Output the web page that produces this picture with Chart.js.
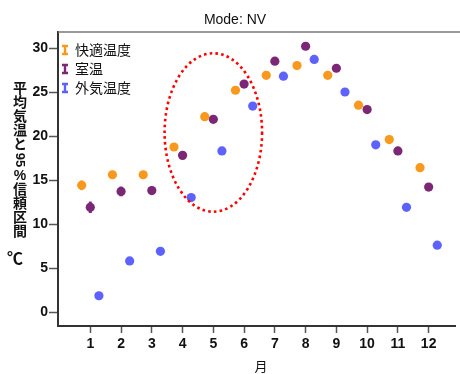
<!DOCTYPE html>
<html>
<head>
<meta charset="utf-8">
<script src="https://cdn.jsdelivr.net/npm/chart.js@4"></script>
<style>
  body { margin: 0; background: #fff; }
</style>
</head>
<body>
<canvas id="chart" width="460" height="374"></canvas>
<script>
var months = [1, 2, 3, 4, 5, 6, 7, 8, 9, 10, 11, 12];
var seriesNames = ["快適温度", "室温", "外気温度"];
var comfort = [14.4, 15.6, 15.6, 18.75, 22.2, 25.2, 26.9, 28.0, 26.9, 23.5, 19.6, 16.4];
var room = [11.9, 13.7, 13.8, 17.8, 21.9, 25.9, 28.5, 30.2, 27.7, 23.0, 18.3, 14.2];
var outdoor = [1.85, 5.8, 6.9, 13.0, 18.3, 23.4, 26.8, 28.7, 25.0, 19.0, 11.9, 7.6];
// 95% CI half widths
var comfortErr = [0.55, 0.45, 0.4, 0.3, 0.3, 0.3, 0.3, 0.3, 0.3, 0.3, 0.3, 0.3];
var roomErr = [0.65, 0.55, 0.45, 0.3, 0.3, 0.3, 0.3, 0.3, 0.3, 0.3, 0.3, 0.3];
var outdoorErr = [0.3, 0.4, 0.4, 0.3, 0.3, 0.3, 0.3, 0.3, 0.3, 0.3, 0.3, 0.3];
var yTicks = [0, 5, 10, 15, 20, 25, 30];
var offsets = [-0.28, 0, 0.28];
var colors = ["#f8981d", "#7b2775", "#5e62fc"];

function points(vals, off) {
  return months.map(function (m, i) { return { x: m + off, y: vals[i] }; });
}

var values = [comfort, room, outdoor];
var errs = [comfortErr, roomErr, outdoorErr];

var datasets = values.map(function (v, k) {
  return {
    label: seriesNames[k],
    data: points(v, offsets[k]),
    backgroundColor: colors[k],
    borderColor: colors[k],
    pointRadius: 4.6,
    pointBorderWidth: 0,
    showLine: false,
    errs: errs[k]
  };
});

// error bars, ellipse, title, legend and axis titles
var extras = {
  id: "extras",
  beforeDatasetsDraw: function (chart) {
    var ctx = chart.ctx, xs = chart.scales.x, ys = chart.scales.y;
    ctx.save();
    chart.data.datasets.forEach(function (ds) {
      ctx.strokeStyle = ds.borderColor;
      ctx.lineWidth = 3;
      ds.data.forEach(function (p, i) {
        var px = xs.getPixelForValue(p.x);
        var y1 = ys.getPixelForValue(p.y - ds.errs[i]);
        var y2 = ys.getPixelForValue(p.y + ds.errs[i]);
        ctx.beginPath();
        ctx.moveTo(px, y1);
        ctx.lineTo(px, y2);
        ctx.stroke();
      });
    });
    ctx.restore();
  },
  afterDatasetsDraw: function (chart) {
    var ctx = chart.ctx, xs = chart.scales.x, ys = chart.scales.y, a = chart.chartArea;
    ctx.save();
    // dotted ellipse around May
    var cx = xs.getPixelForValue(5), cy = ys.getPixelForValue(20.4);
    var rx = xs.getPixelForValue(5 + 1.585) - cx;
    var ry = cy - ys.getPixelForValue(20.4 + 9.0);
    ctx.strokeStyle = "#ff0000";
    ctx.lineWidth = 2.6;
    ctx.setLineDash([2.6, 3.2]);
    ctx.beginPath();
    ctx.ellipse(cx, cy, rx, ry, 0, 0, Math.PI * 2);
    ctx.stroke();
    ctx.setLineDash([]);

    // top frame line
    ctx.strokeStyle = "#777";
    ctx.lineWidth = 1.6;
    ctx.beginPath();
    ctx.moveTo(a.left, a.top);
    ctx.lineTo(chart.width, a.top);
    ctx.stroke();

    // title
    ctx.fillStyle = "#111";
    ctx.font = "14px 'Liberation Sans', Arial, sans-serif";
    ctx.textAlign = "center";
    ctx.textBaseline = "middle";
    ctx.fillText("Mode: NV", 235, 20);

    // legend
    var rows = [50, 69, 88];
    ctx.font = "14px 'Noto Sans CJK JP', sans-serif";
    ctx.textAlign = "left";
    rows.forEach(function (ry, k) {
      ctx.strokeStyle = colors[k];
      ctx.lineWidth = 2.4;
      ctx.beginPath();
      ctx.moveTo(65, ry - 4); ctx.lineTo(65, ry + 4);
      ctx.moveTo(62, ry - 4); ctx.lineTo(68, ry - 4);
      ctx.moveTo(62, ry + 4); ctx.lineTo(68, ry + 4);
      ctx.stroke();
      ctx.fillStyle = "#111";
      ctx.fillText(seriesNames[k], 75, ry);
    });

    // y axis title (vertical)
    ctx.fillStyle = "#111";
    ctx.font = "bold 14px 'Noto Sans CJK JP', sans-serif";
    ctx.textAlign = "center";
    var chars = ["平", "均", "気", "温", "と"];
    var y = 88;
    chars.forEach(function (c) { ctx.fillText(c, 20, y); y += 14; });
    ctx.save();
    ctx.translate(20, y + 2);
    ctx.rotate(Math.PI / 2);
    ctx.font = "bold 13px 'Liberation Sans', Arial, sans-serif";
    ctx.fillText("95", 0, 0);
    ctx.restore();
    y += 18;
    ctx.font = "bold 14px 'Liberation Sans', Arial, sans-serif";
    ctx.fillText("%", 20, y);
    y += 13;
    ctx.font = "bold 14px 'Noto Sans CJK JP', sans-serif";
    ["信", "頼", "区", "間"].forEach(function (c) { ctx.fillText(c, 20, y); y += 14; });
    ctx.font = "bold 16px 'Noto Sans CJK JP', sans-serif";
    ctx.fillText("℃", 15, 258);

    // x axis title
    ctx.font = "13px 'Noto Sans CJK JP', sans-serif";
    ctx.fillText("月", 261, 366);
    ctx.restore();
  }
};

var tickFont = { family: "'Liberation Sans', Arial, sans-serif", size: 14, weight: "bold" };

new Chart(document.getElementById("chart").getContext("2d"), {
  type: "scatter",
  data: { datasets: datasets },
  options: {
    responsive: false,
    animation: false,
    layout: { padding: { top: 32, left: 0, right: 0, bottom: 0 } },
    plugins: { legend: { display: false }, tooltip: { enabled: false }, title: { display: false } },
    scales: {
      x: {
        type: "linear",
        min: -0.05,
        max: 12.87,
        afterBuildTicks: function (s) { s.ticks = months.map(function (m) { return { value: m }; }); },
        afterFit: function (s) { s.height = 48; },
        ticks: { font: tickFont, color: "#111", padding: 3, autoSkip: false, maxRotation: 0 },
        grid: { drawOnChartArea: false, drawTicks: true, tickLength: 7, tickColor: "#555", tickWidth: 1.5 },
        border: { display: true, color: "#333", width: 2 }
      },
      y: {
        min: -1.59,
        max: 31.82,
        afterBuildTicks: function (s) { s.ticks = yTicks.map(function (v) { return { value: v }; }); },
        afterFit: function (s) { s.width = 58; },
        ticks: { font: tickFont, color: "#111", padding: 1 },
        grid: { drawOnChartArea: false, drawTicks: true, tickLength: 9, tickColor: "#555", tickWidth: 1.5 },
        border: { display: true, color: "#333", width: 2 }
      }
    }
  },
  plugins: [extras]
});
</script>
</body>
</html>
